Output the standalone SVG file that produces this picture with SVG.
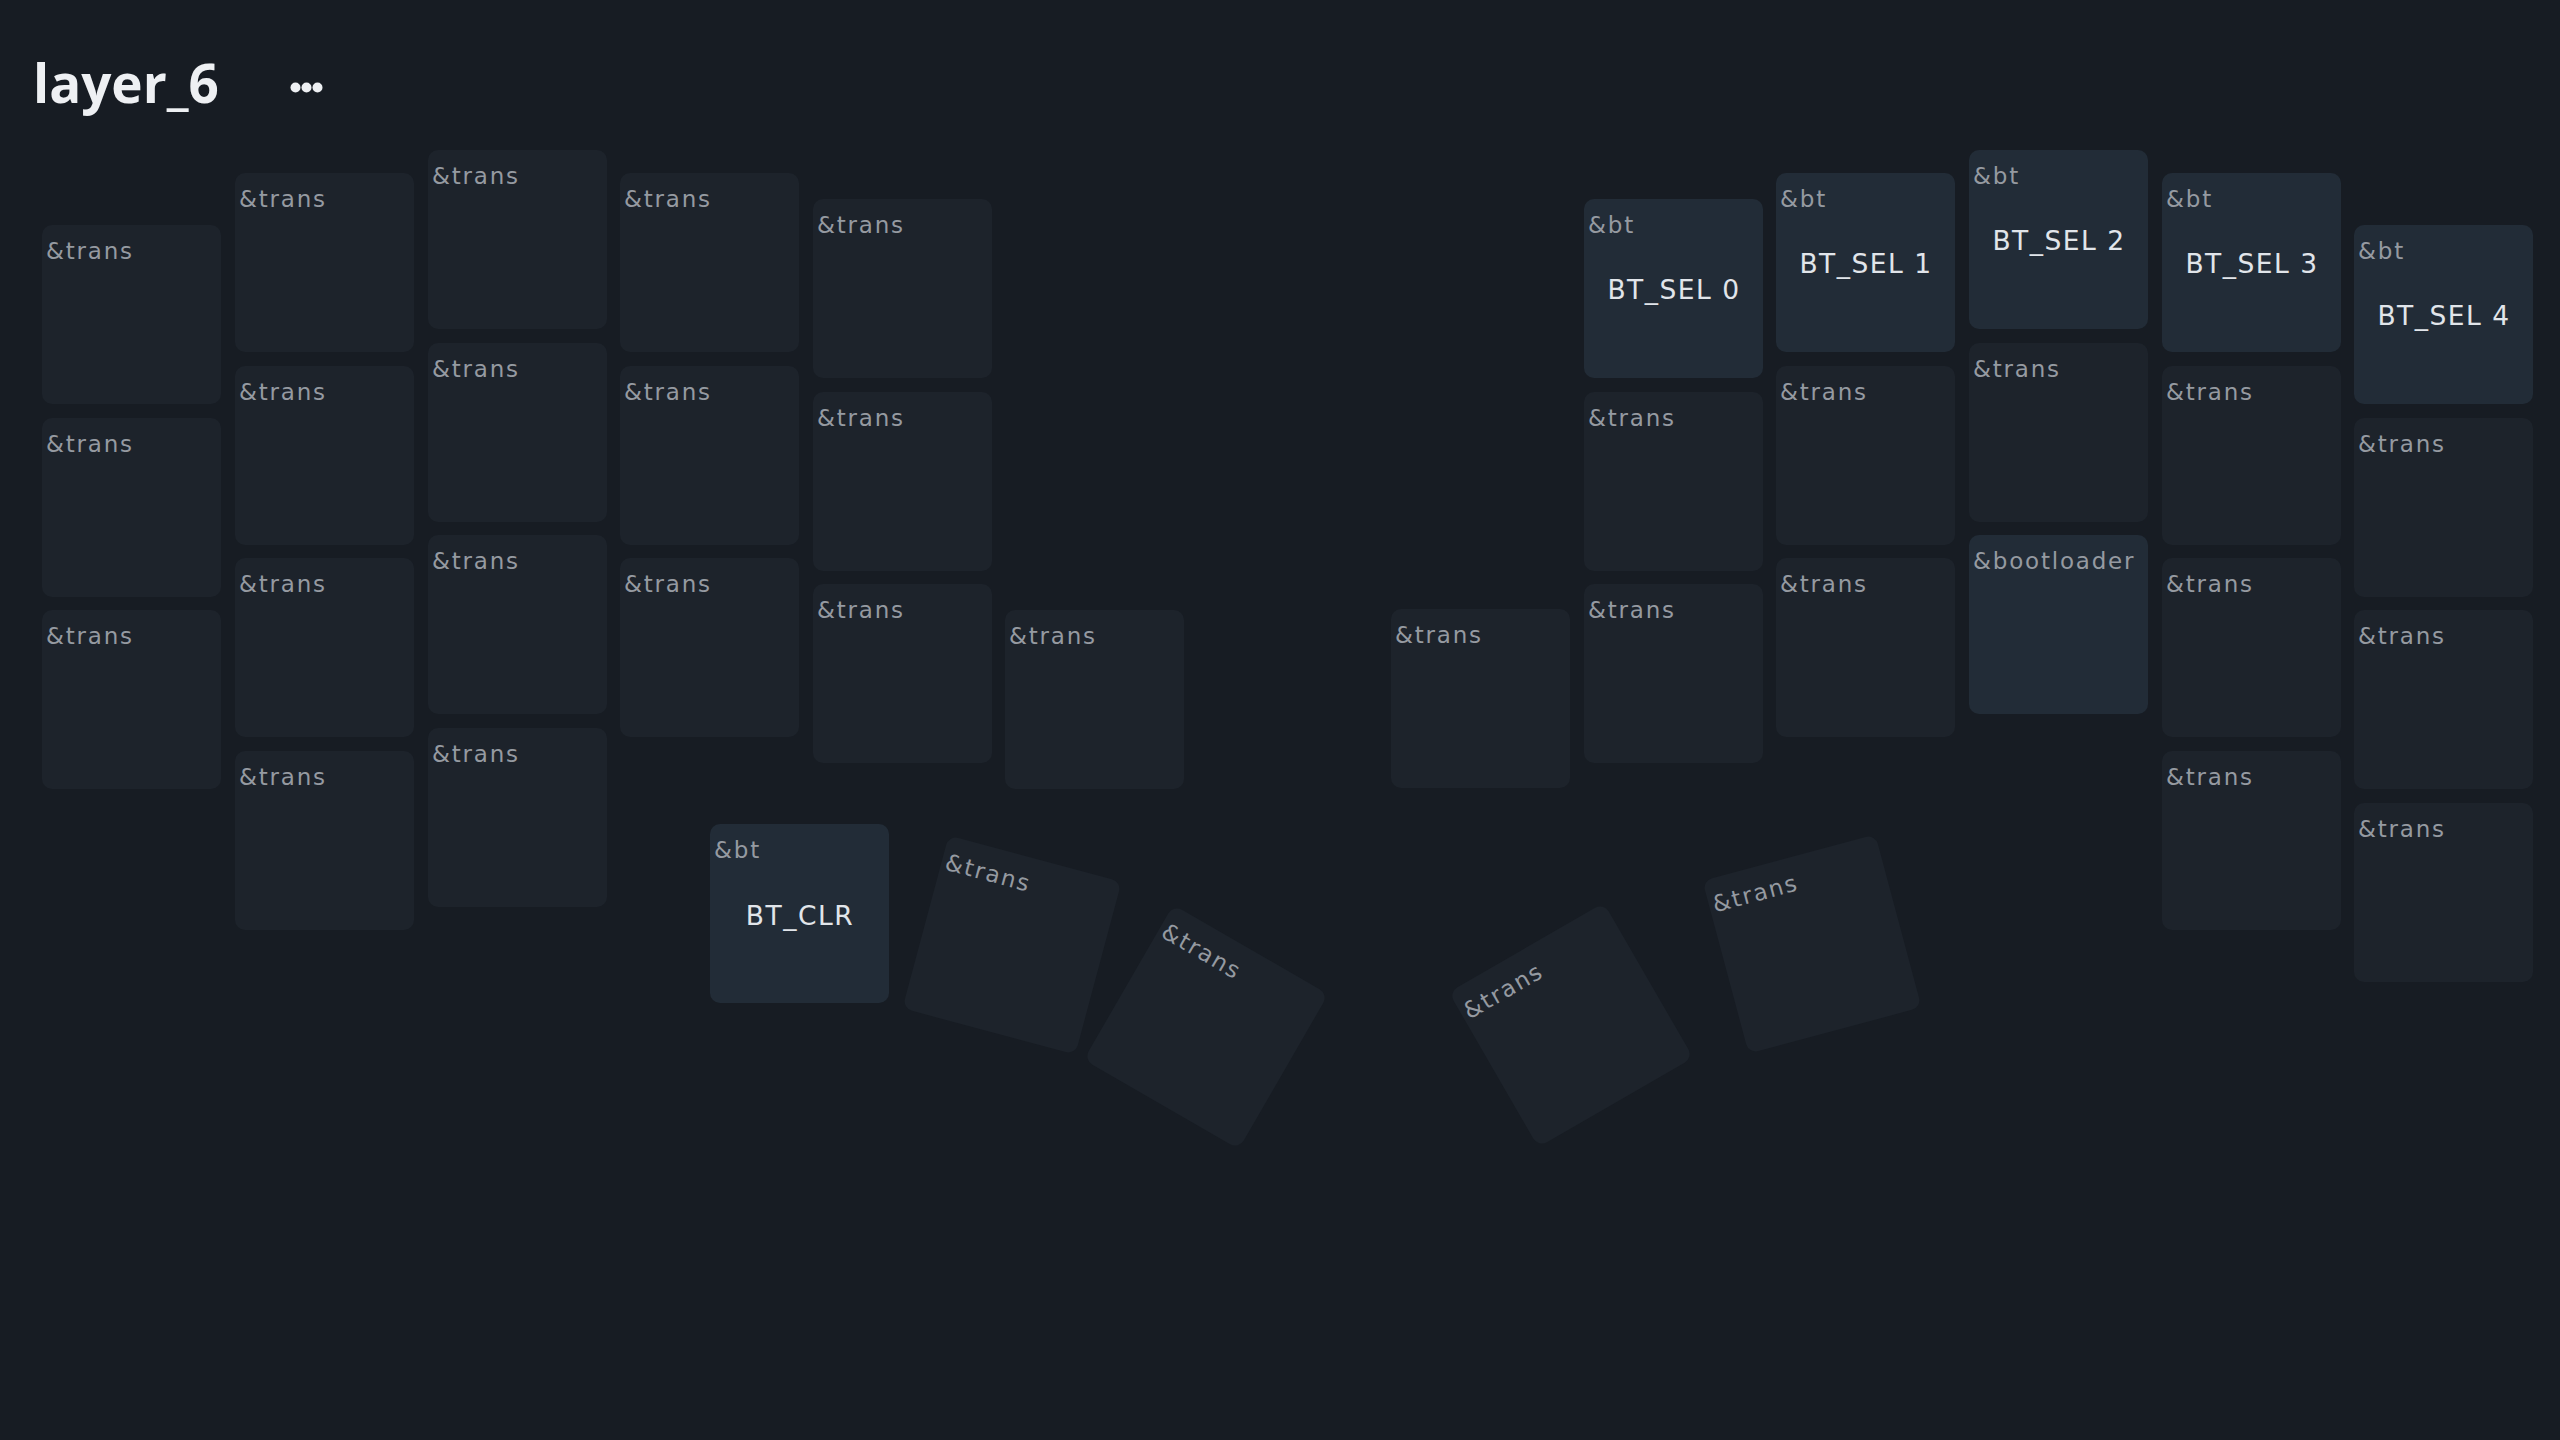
<svg xmlns="http://www.w3.org/2000/svg" width="2560" height="1440" viewBox="0 0 2560 1440">
<defs>
<style>
.bg{fill:#171c23}
.k use{fill:#1d232b}
.b use{fill:#222c37}
.lbl{font-family:"DejaVu Sans","Liberation Sans",sans-serif;font-size:23px;letter-spacing:1.8px;fill:#959aa1}
.main{font-family:"DejaVu Sans","Liberation Sans",sans-serif;font-size:26.5px;letter-spacing:1.5px;fill:#e1e5ea;text-anchor:middle}
.title{font-family:"Open Sans","Liberation Sans",sans-serif;font-weight:bold;font-size:53px;fill:#eef0f3}
</style>
<rect id="kr" width="179" height="179" rx="10"/>
</defs>
<rect class="bg" x="0" y="0" width="2560" height="1440"/>
<g id="header">
<text class="title" x="33" y="103">layer_6</text>
<g fill="#eef0f3"><circle cx="295.5" cy="87.5" r="5"/><circle cx="306.5" cy="87.5" r="5"/><circle cx="317.5" cy="87.5" r="5"/></g>
</g>
<g id="left-hand">
<g id="k0" class="k" transform="translate(42,225)"><use href="#kr"/><text class="lbl" x="4" y="34">&amp;trans</text></g>
<g id="k1" class="k" transform="translate(42,418)"><use href="#kr"/><text class="lbl" x="4" y="34">&amp;trans</text></g>
<g id="k2" class="k" transform="translate(42,610)"><use href="#kr"/><text class="lbl" x="4" y="34">&amp;trans</text></g>
<g id="k3" class="k" transform="translate(235,173)"><use href="#kr"/><text class="lbl" x="4" y="34">&amp;trans</text></g>
<g id="k4" class="k" transform="translate(235,366)"><use href="#kr"/><text class="lbl" x="4" y="34">&amp;trans</text></g>
<g id="k5" class="k" transform="translate(235,558)"><use href="#kr"/><text class="lbl" x="4" y="34">&amp;trans</text></g>
<g id="k6" class="k" transform="translate(235,751)"><use href="#kr"/><text class="lbl" x="4" y="34">&amp;trans</text></g>
<g id="k7" class="k" transform="translate(428,150)"><use href="#kr"/><text class="lbl" x="4" y="34">&amp;trans</text></g>
<g id="k8" class="k" transform="translate(428,343)"><use href="#kr"/><text class="lbl" x="4" y="34">&amp;trans</text></g>
<g id="k9" class="k" transform="translate(428,535)"><use href="#kr"/><text class="lbl" x="4" y="34">&amp;trans</text></g>
<g id="k10" class="k" transform="translate(428,728)"><use href="#kr"/><text class="lbl" x="4" y="34">&amp;trans</text></g>
<g id="k11" class="k" transform="translate(620,173)"><use href="#kr"/><text class="lbl" x="4" y="34">&amp;trans</text></g>
<g id="k12" class="k" transform="translate(620,366)"><use href="#kr"/><text class="lbl" x="4" y="34">&amp;trans</text></g>
<g id="k13" class="k" transform="translate(620,558)"><use href="#kr"/><text class="lbl" x="4" y="34">&amp;trans</text></g>
<g id="k14" class="k" transform="translate(813,199)"><use href="#kr"/><text class="lbl" x="4" y="34">&amp;trans</text></g>
<g id="k15" class="k" transform="translate(813,392)"><use href="#kr"/><text class="lbl" x="4" y="34">&amp;trans</text></g>
<g id="k16" class="k" transform="translate(813,584)"><use href="#kr"/><text class="lbl" x="4" y="34">&amp;trans</text></g>
<g id="k17" class="k" transform="translate(1005,610)"><use href="#kr"/><text class="lbl" x="4" y="34">&amp;trans</text></g>
<g id="k18" class="b" transform="translate(710,824)"><use href="#kr"/><text class="lbl" x="4" y="34">&amp;bt</text><text class="main" x="90" y="101">BT_CLR</text></g>
<g id="k19" class="k" transform="translate(1012,945) rotate(15) translate(-89.5,-89.5)"><use href="#kr"/><text class="lbl" x="4" y="34">&amp;trans</text></g>
<g id="k20" class="k" transform="translate(1206,1027) rotate(30) translate(-89.5,-89.5)"><use href="#kr"/><text class="lbl" x="4" y="34">&amp;trans</text></g>
</g>
<g id="right-hand">
<g id="k21" class="k" transform="translate(1391,609)"><use href="#kr"/><text class="lbl" x="4" y="34">&amp;trans</text></g>
<g id="k22" class="b" transform="translate(1584,199)"><use href="#kr"/><text class="lbl" x="4" y="34">&amp;bt</text><text class="main" x="90" y="100">BT_SEL 0</text></g>
<g id="k23" class="k" transform="translate(1584,392)"><use href="#kr"/><text class="lbl" x="4" y="34">&amp;trans</text></g>
<g id="k24" class="k" transform="translate(1584,584)"><use href="#kr"/><text class="lbl" x="4" y="34">&amp;trans</text></g>
<g id="k25" class="b" transform="translate(1776,173)"><use href="#kr"/><text class="lbl" x="4" y="34">&amp;bt</text><text class="main" x="90" y="100">BT_SEL 1</text></g>
<g id="k26" class="k" transform="translate(1776,366)"><use href="#kr"/><text class="lbl" x="4" y="34">&amp;trans</text></g>
<g id="k27" class="k" transform="translate(1776,558)"><use href="#kr"/><text class="lbl" x="4" y="34">&amp;trans</text></g>
<g id="k28" class="b" transform="translate(1969,150)"><use href="#kr"/><text class="lbl" x="4" y="34">&amp;bt</text><text class="main" x="90" y="100">BT_SEL 2</text></g>
<g id="k29" class="k" transform="translate(1969,343)"><use href="#kr"/><text class="lbl" x="4" y="34">&amp;trans</text></g>
<g id="k30" class="b" transform="translate(1969,535)"><use href="#kr"/><text class="lbl" x="4" y="34">&amp;bootloader</text></g>
<g id="k31" class="b" transform="translate(2162,173)"><use href="#kr"/><text class="lbl" x="4" y="34">&amp;bt</text><text class="main" x="90" y="100">BT_SEL 3</text></g>
<g id="k32" class="k" transform="translate(2162,366)"><use href="#kr"/><text class="lbl" x="4" y="34">&amp;trans</text></g>
<g id="k33" class="k" transform="translate(2162,558)"><use href="#kr"/><text class="lbl" x="4" y="34">&amp;trans</text></g>
<g id="k34" class="k" transform="translate(2162,751)"><use href="#kr"/><text class="lbl" x="4" y="34">&amp;trans</text></g>
<g id="k35" class="b" transform="translate(2354,225)"><use href="#kr"/><text class="lbl" x="4" y="34">&amp;bt</text><text class="main" x="90" y="100">BT_SEL 4</text></g>
<g id="k36" class="k" transform="translate(2354,418)"><use href="#kr"/><text class="lbl" x="4" y="34">&amp;trans</text></g>
<g id="k37" class="k" transform="translate(2354,610)"><use href="#kr"/><text class="lbl" x="4" y="34">&amp;trans</text></g>
<g id="k38" class="k" transform="translate(2354,803)"><use href="#kr"/><text class="lbl" x="4" y="34">&amp;trans</text></g>
<g id="k39" class="k" transform="translate(1571,1025) rotate(-30) translate(-89.5,-89.5)"><use href="#kr"/><text class="lbl" x="4" y="34">&amp;trans</text></g>
<g id="k40" class="k" transform="translate(1812,944) rotate(-15) translate(-89.5,-89.5)"><use href="#kr"/><text class="lbl" x="4" y="34">&amp;trans</text></g>
</g>
<g id="connectors"/>
</svg>
